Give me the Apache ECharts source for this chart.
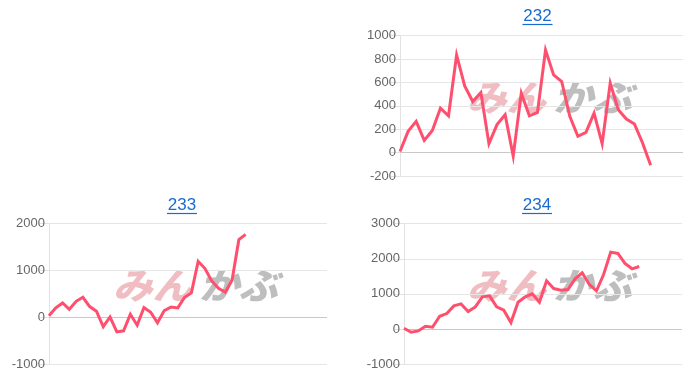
<!DOCTYPE html>
<html>
<head>
<meta charset="utf-8">
<script src="https://cdn.jsdelivr.net/npm/echarts@6/dist/echarts.min.js"></script>
<style>
html,body{margin:0;padding:0;background:#fff;}
#c{width:700px;height:378px;}
</style>
</head>
<body>
<div id="c"></div>
<script>
const titles = ['232', '233', '234'];

const cats232 = Array.from({length: 36}, (_, i) => String(i + 1));
const cats233 = Array.from({length: 42}, (_, i) => String(i + 1));
const cats234 = Array.from({length: 40}, (_, i) => String(i + 1));

const values232 = [10, 182, 267, 105, 190, 380, 315, 835, 570, 437, 514, 77, 240, 324, -30, 508, 315, 343, 878, 665, 608, 310, 140, 173, 338, 77, 594, 366, 287, 244, 82, -108];
const values233 = [30, 200, 306, 170, 340, 427, 228, 128, -200, 7, -313, -290, 64, -170, 206, 107, -120, 142, 220, 200, 427, 520, 1195, 1040, 776, 620, 534, 790, 1658, 1772];
const values234 = [20, -95, -57, 76, 48, 362, 438, 657, 714, 495, 628, 914, 943, 628, 533, 181, 762, 914, 1000, 762, 1371, 1152, 1105, 1124, 1428, 1600, 1267, 1086, 1552, 2190, 2152, 1867, 1714, 1781];

const yMin = [-200, -1000, -1000];
const yMax = [1000, 2000, 3000];
const yInterval = [200, 1000, 1000];

const watermarkPink = 'みん';
const watermarkGray = 'かぶ';

const chart = echarts.init(document.getElementById('c'));

const grids = [
  {left: 400, top: 35.7, width: 283, height: 140.3},
  {left: 49, top: 223.7, width: 278, height: 140.3},
  {left: 404, top: 223.7, width: 278, height: 140.3}
];
const titlePos = [[537.5, 16], [182, 205], [537, 205]];
const wmPos = [[467, 97], [113, 285], [467, 285]];
const catsList = [cats232, cats233, cats234];
const valuesList = [values232, values233, values234];

const graphics = [];
titles.forEach((t, i) => {
  const [x, y] = titlePos[i];
  graphics.push({
    type: 'text', x: x, y: y, z: 10,
    style: {text: t, fill: '#1a6bd1', font: '17px "Liberation Sans", Arial, sans-serif', align: 'center', verticalAlign: 'middle'}
  });
  graphics.push({
    type: 'line', z: 10,
    shape: {x1: x - 15, y1: y + 8.5, x2: x + 15, y2: y + 8.5},
    style: {stroke: '#1a6bd1', lineWidth: 1.2}
  });
  const [wx, wy] = wmPos[i];
  graphics.push({
    type: 'text', x: wx, y: wy, z: -1, silent: true, scaleX: 1.1,
    style: {text: watermarkPink, fill: 'rgba(222,110,120,0.45)', font: 'italic 900 36px "Noto Sans CJK JP", sans-serif', align: 'left', verticalAlign: 'middle'}
  });
  graphics.push({
    type: 'text', x: wx + 86, y: wy, z: -1, silent: true, scaleX: 1.1,
    style: {text: watermarkGray, fill: 'rgba(150,150,150,0.62)', font: 'italic 900 36px "Noto Sans CJK JP", sans-serif', align: 'left', verticalAlign: 'middle'}
  });
});

const option = {
  backgroundColor: '#fff',
  animation: false,
  grid: grids,
  xAxis: catsList.map((c, i) => ({
    type: 'category', gridIndex: i, data: c, boundaryGap: false,
    axisLine: {show: false}, axisTick: {show: false}, axisLabel: {show: false}, splitLine: {show: false}
  })),
  yAxis: [0, 1, 2].map(i => ({
    type: 'value', gridIndex: i, min: yMin[i], max: yMax[i], interval: yInterval[i],
    axisLine: {show: true, lineStyle: {color: '#e2e2e2', width: 1}},
    axisTick: {show: true, length: 9, lineStyle: {color: '#e2e2e2'}},
    axisLabel: {color: '#666', fontSize: 13, fontFamily: '"Liberation Sans", Arial, sans-serif', margin: 4, formatter: v => String(v)},
    splitLine: {show: true, lineStyle: {color: '#e6e6e6', width: 1}}
  })),
  series: valuesList.map((v, i) => ({
    type: 'line', xAxisIndex: i, yAxisIndex: i, data: v,
    showSymbol: false, symbol: 'none',
    lineStyle: {color: '#ff4f6e', width: 3, join: 'miter'},
    itemStyle: {color: '#ff4f6e'},
    z: 5,
    markLine: {
      silent: true, symbol: 'none', label: {show: false},
      lineStyle: {color: '#c8c8c8', width: 1.2, type: 'solid'},
      data: [{yAxis: 0}], z: 1
    }
  })),
  graphic: graphics
};
chart.setOption(option);
</script>
</body>
</html>
